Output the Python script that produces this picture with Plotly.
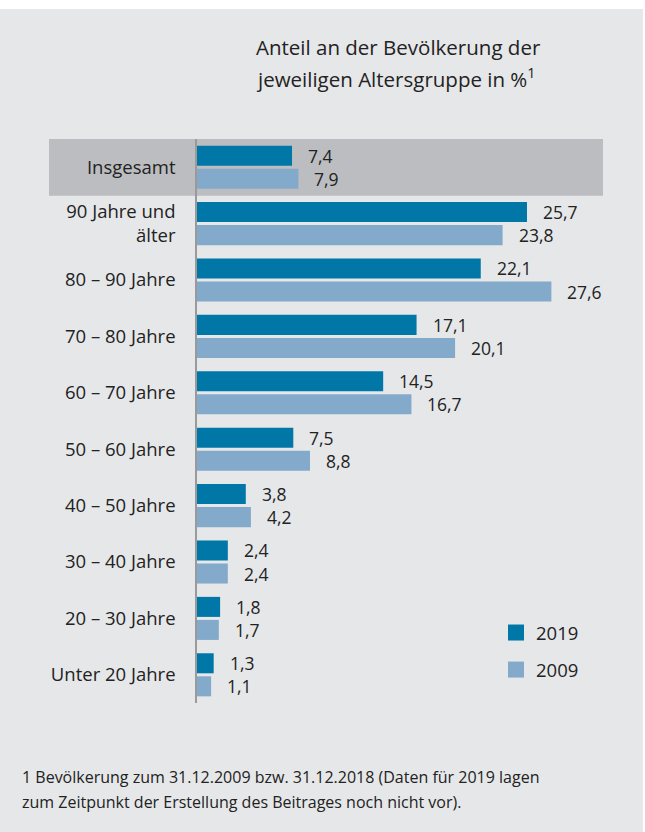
import plotly.graph_objects as go

categories = ["Insgesamt", "90 Jahre und<br>älter", "80 – 90 Jahre", "70 – 80 Jahre",
              "60 – 70 Jahre", "50 – 60 Jahre", "40 – 50 Jahre", "30 – 40 Jahre",
              "20 – 30 Jahre", "Unter 20 Jahre"]
values_2019 = [7.4, 25.7, 22.1, 17.1, 14.5, 7.5, 3.8, 2.4, 1.8, 1.3]
values_2009 = [7.9, 23.8, 27.6, 20.1, 16.7, 8.8, 4.2, 2.4, 1.7, 1.1]
series_names = ["2019", "2009"]
title_lines = ["Anteil an der Bevölkerung der", "jeweiligen Altersgruppe in %<sup>1</sup>"]
footnote_lines = ["1 Bevölkerung zum 31.12.2009 bzw. 31.12.2018 (Daten für 2019 lagen",
                  "zum Zeitpunkt der Erstellung des Beitrages noch nicht vor)."]

C2019 = "#0077a7"
C2009 = "#84aacb"
BG = "#e6e7e9"
HL = "#bcbdc0"
TXT = "#222222"
FONT = "Open Sans"

W, H = 645, 832
ML, MR, MT, MB = 197, 42, 139, 129
plot_w = W - ML - MR
plot_h = H - MT - MB


def px_x(px):
    return (px - ML) / plot_w


def px_y(py):
    return (H - MB - py) / plot_h


fig = go.Figure()
ypos = list(range(len(categories)))
fig.add_trace(go.Bar(y=ypos, x=values_2019, orientation="h", name=series_names[0],
                     marker=dict(color=C2019, line=dict(width=0)), showlegend=False,
                     hoverinfo="skip"))
fig.add_trace(go.Bar(y=ypos, x=values_2009, orientation="h", name=series_names[1],
                     marker=dict(color=C2009, line=dict(width=0)), showlegend=False,
                     hoverinfo="skip"))
# legend entries
for name, col in zip(series_names, [C2019, C2009]):
    fig.add_trace(go.Scatter(x=[None], y=[None], mode="markers", name=name, legendgroup=name,
                             marker=dict(symbol="square", size=16, color=col)))

bargap = 0.183
bgg = 0.13
off = (1 - bargap) / 4

ann = []


def fmt(v):
    return f"{v:.1f}".replace(".", ",")


for i, (a, b) in enumerate(zip(values_2019, values_2009)):
    ann.append(dict(x=a, y=i - off, xref="x", yref="y", text=fmt(a), showarrow=False,
                    xanchor="left", yanchor="middle", xshift=14,
                    font=dict(size=17.5, color=TXT, family=FONT)))
    ann.append(dict(x=b, y=i + off, xref="x", yref="y", text=fmt(b), showarrow=False,
                    xanchor="left", yanchor="middle", xshift=14,
                    font=dict(size=17.5, color=TXT, family=FONT)))

# title
for line, yc in zip(title_lines, [47, 78]):
    ann.append(dict(x=px_x(254), y=px_y(yc), xref="paper", yref="paper", text=line,
                    showarrow=False, xanchor="left", yanchor="middle", align="left",
                    font=dict(size=20.5, color=TXT, family=FONT)))
# footnote
for line, yc in zip(footnote_lines, [777, 802]):
    ann.append(dict(x=px_x(20), y=px_y(yc), xref="paper", yref="paper", text=line,
                    showarrow=False, xanchor="left", yanchor="middle", align="left",
                    font=dict(size=16, color=TXT, family=FONT)))

shapes = [
    dict(type="rect", xref="paper", yref="y", x0=px_x(49), x1=px_x(603),
         y0=-0.53, y1=0.505, fillcolor=HL, line=dict(width=0), layer="below"),
    dict(type="rect", xref="paper", yref="paper", x0=px_x(0), x1=px_x(W),
         y0=px_y(9), y1=px_y(0), fillcolor="white", line=dict(width=0), layer="below"),
    dict(type="rect", xref="paper", yref="paper", x0=px_x(643), x1=px_x(W),
         y0=px_y(H), y1=px_y(0), fillcolor="white", line=dict(width=0), layer="below"),
]

fig.update_layout(
    width=W, height=H, margin=dict(l=ML, r=MR, t=MT, b=MB),
    paper_bgcolor=BG, plot_bgcolor=BG,
    barmode="group", bargap=bargap, bargroupgap=bgg,
    font=dict(family=FONT, color=TXT, size=18),
    annotations=ann, shapes=shapes,
    legend=dict(x=px_x(496), y=px_y(614), xanchor="left", yanchor="top",
                bgcolor="rgba(0,0,0,0)", font=dict(size=18.5, color=TXT, family=FONT),
                traceorder="grouped", tracegroupgap=10),
    showlegend=True,
    hovermode=False,
)
fig.update_xaxes(range=[0, plot_w / 12.84], visible=False, showgrid=False, zeroline=False)
fig.update_yaxes(range=[len(categories) - 0.5, -0.5], tickmode="array", tickvals=ypos,
                 ticktext=categories, showgrid=False, zeroline=False,
                 showline=True, linecolor="#9a9a9a", linewidth=1.5,
                 ticks="", ticklabelstandoff=16,
                 tickfont=dict(size=18.5, color=TXT, family=FONT))

fig.write_html("out.html", config={"displayModeBar": False},
               post_script="document.body.style.margin='0px';")
